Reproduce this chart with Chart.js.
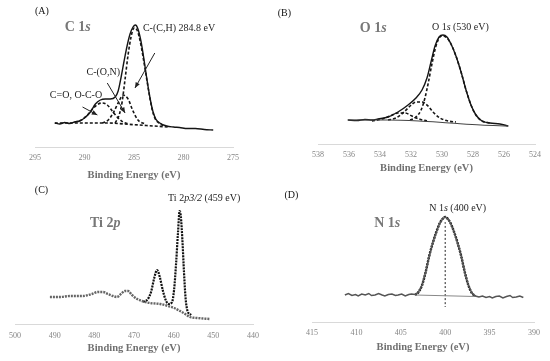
<!DOCTYPE html>
<html>
<head>
<meta charset="utf-8">
<script src="https://cdn.jsdelivr.net/npm/chart.js@4.4.0/dist/chart.umd.min.js"></script>
<style>
  html, body { margin: 0; padding: 0; background: #fff; }
  #wrap { position: relative; width: 550px; height: 361px; overflow: hidden; }
  canvas { position: absolute; }
</style>
</head>
<body>
<div id="wrap">
  <canvas id="panelA" width="275" height="182" style="left:0;top:0"></canvas>
  <canvas id="panelB" width="275" height="175" style="left:275px;top:0"></canvas>
  <canvas id="panelC" width="275" height="175" style="left:0;top:180px"></canvas>
  <canvas id="panelD" width="275" height="174" style="left:275px;top:180px"></canvas>
</div>
<script>
// ---- (A) C 1s ----
const c1sEnvX = [293.0, 292.5, 292.0, 291.5, 291.0, 290.5, 290.0, 289.4, 288.9, 288.4, 287.9, 287.4, 286.9, 286.6, 286.3, 286.0, 285.7, 285.4, 285.1, 284.85, 284.6, 284.3, 284.0, 283.7, 283.4, 283.1, 282.8, 282.4, 281.7, 281.0, 280.4, 279.6, 278.8, 277.9, 277.0];
const c1sEnvY = [24, 23, 24.5, 23.5, 25, 26, 29, 35, 43, 47, 48, 48, 50, 56, 70, 86, 101, 113, 120, 122, 118, 106, 88, 68, 50, 36, 28, 24, 21, 20, 19.5, 18.5, 18.5, 17.5, 17];
const c1sCOX = [291.0, 290.3, 289.7, 289.1, 288.6, 288.2, 287.7, 287.2, 286.7, 286.1, 285.5];
const c1sCOY = [25, 27, 32, 39, 43, 44, 42, 36, 30, 25, 23];
const c1sCONX = [288.2, 287.6, 287.1, 286.6, 286.1, 285.6, 285.1, 284.6, 283.9];
const c1sCONY = [24, 27, 34, 44, 52, 48, 36, 27, 23];
const c1sCHX = [286.9, 286.5, 286.2, 285.9, 285.6, 285.3, 285.0, 284.7, 284.4, 284.1, 283.8, 283.5, 283.2, 282.9, 282.5, 281.9];
const c1sCHY = [24, 32, 45, 68, 92, 110, 119, 117, 107, 91, 73, 55, 39, 29, 24, 21];
const c1sBgX = [293.0, 290.0, 287.5, 286.0, 284.5, 283.0, 281.5];
const c1sBgY = [24, 24, 24, 23, 22, 21, 20];

// ---- (B) O 1s ----
const o1sEnvX = [536.06, 535.5, 534.97, 534.5, 534.13, 533.48, 532.84, 532.19, 531.68, 531.29, 530.97, 530.71, 530.45, 530.19, 529.94, 529.68, 529.42, 529.10, 528.77, 528.45, 528.13, 527.81, 527.42, 526.90, 526.26, 525.74];
const o1sEnvY = [24, 23.5, 24.5, 24, 25, 27, 32, 39, 46, 54, 66, 82, 98, 107, 109, 107, 100, 88, 72, 54, 39, 29, 23, 21, 20, 18];
const o1sMainX = [532.06, 531.68, 531.35, 531.10, 530.90, 530.65, 530.39, 530.13, 529.94, 529.68, 529.42, 529.10, 528.77, 528.45, 528.13, 527.81, 527.42, 526.90];
const o1sMainY = [24, 27, 34, 46, 60, 80, 98, 107, 108, 106, 100, 88, 72, 54, 39, 29, 23, 21];
const o1sMidX = [533.48, 532.97, 532.45, 532.06, 531.68, 531.29, 530.90, 530.52, 530.13, 529.61, 529.10];
const o1sMidY = [24, 26, 32, 38, 42, 42, 38, 31, 26, 23, 22];
const o1sHighX = [534.52, 533.87, 533.35, 532.84, 532.39, 531.94, 531.48, 530.97];
const o1sHighY = [23, 25, 28, 31, 31, 28, 25, 23];
const o1sBgX = [536.1, 533.5, 531.5, 529.5, 527.5, 525.7];
const o1sBgY = [24, 24, 23, 21, 19, 18];

// ---- (C) Ti 2p ----
const ti2pDataX = [491.2, 488.7, 486.1, 482.9, 480.6, 479.1, 477.8, 476.6, 475.3, 474.3, 473.3, 472.3, 471.5, 470.5, 469.2, 468.0, 466.0, 463.4, 461.4, 459.9, 458.4, 457.1, 455.9, 454.1, 450.8];
const ti2pDataY = [27, 27, 28, 28, 30, 32, 32, 30, 28, 27, 30, 33, 33, 29, 25, 23, 21, 20, 18, 16, 13, 10, 7, 6, 5];
const ti2pFitX = [467.7, 466.5, 465.7, 464.9, 464.2, 463.5, 462.7, 461.9, 461.2, 460.4, 459.9, 459.4, 458.9, 458.5, 458.2, 457.8, 457.4, 457.0, 456.5, 455.6];
const ti2pFitY = [22, 25, 32, 46, 54, 47, 33, 23, 20, 22, 34, 60, 92, 113, 108, 84, 52, 26, 13, 9];

// ---- (D) N 1s ----
const n1sDataX = [411.3, 410.9, 410.5, 410.1, 409.8, 409.4, 409.0, 408.6, 408.3, 407.9, 407.5, 407.1, 406.8, 406.4, 406.0, 405.6, 405.3, 404.9, 404.5, 404.1, 403.8,
  403.4, 403.0, 402.6, 402.2, 401.8, 401.4, 401.0, 400.6, 400.3, 400.0, 399.7, 399.4, 399.0, 398.6, 398.2, 397.8, 397.4, 397.0, 396.6,
  396.2, 395.8, 395.4, 395.0, 394.7, 394.3, 393.9, 393.5, 393.1, 392.7, 392.4, 392.0, 391.6, 391.2];
const n1sDataY = [27, 28.5, 26.5, 27.5, 26, 28, 27, 28.5, 26.5, 27, 28.5, 27, 26, 27.5, 28, 26.5, 27, 28, 26, 27.5, 28,
  27.5, 30, 37, 50, 66, 79, 90, 99, 103, 105, 103, 99, 90, 79, 66, 50, 37, 29, 26,
  25, 26, 24.5, 25.5, 24, 25.5, 26, 24, 25.5, 26.5, 24.5, 25, 26, 24.5];
const n1sFitX = [403.4, 403.0, 402.6, 402.2, 401.8, 401.4, 401.0, 400.6, 400.3, 400.0, 399.7, 399.4, 399.0, 398.6, 398.2, 397.8, 397.4, 397.0, 396.6];
const n1sFitY = [27, 30, 37, 50, 66, 79, 90, 99, 103, 105, 103, 99, 90, 79, 66, 50, 37, 29, 26];
const n1sBgX = [403.4, 396.6];
const n1sBgY = [27, 25.5];
const n1sMarkX = [400, 400];
const n1sMarkY = [100, 15];

const SERIF = "'Liberation Serif', 'Times New Roman', serif";

function series(xs, ys) {
  return xs.map((x, i) => ({ x: x, y: ys[i] }));
}

function lineSet(xs, ys, style) {
  return Object.assign({
    data: series(xs, ys),
    pointRadius: 0,
    fill: false,
    cubicInterpolationMode: 'monotone',
    borderColor: '#1a1a1a',
    borderWidth: 1.2
  }, style);
}

const solid = { borderColor: '#151515', borderWidth: 1.4 };
const dashed = { borderColor: '#151515', borderWidth: 1.6, borderDash: [3, 2] };

// text and arrows, placed in data coordinates
function notesPlugin(notes) {
  return {
    id: 'notes',
    afterDraw(chart) {
      const ctx = chart.ctx;
      const sx = chart.scales.x, sy = chart.scales.y;
      ctx.save();
      (notes.arrows || []).forEach(a => {
        const x1 = sx.getPixelForValue(a.from[0]), y1 = sy.getPixelForValue(a.from[1]);
        const x2 = sx.getPixelForValue(a.to[0]), y2 = sy.getPixelForValue(a.to[1]);
        ctx.strokeStyle = '#222';
        ctx.fillStyle = '#222';
        ctx.lineWidth = 1;
        ctx.beginPath();
        ctx.moveTo(x1, y1);
        ctx.lineTo(x2, y2);
        ctx.stroke();
        const ang = Math.atan2(y2 - y1, x2 - x1);
        ctx.beginPath();
        ctx.moveTo(x2, y2);
        ctx.lineTo(x2 - 6 * Math.cos(ang - 0.4), y2 - 6 * Math.sin(ang - 0.4));
        ctx.lineTo(x2 - 6 * Math.cos(ang + 0.4), y2 - 6 * Math.sin(ang + 0.4));
        ctx.closePath();
        ctx.fill();
      });
      (notes.labels || []).forEach(l => {
        let x = sx.getPixelForValue(l.at[0]);
        const y = sy.getPixelForValue(l.at[1]);
        ctx.fillStyle = l.color;
        ctx.textBaseline = 'middle';
        ctx.textAlign = 'left';
        l.parts.forEach(p => {
          ctx.font = (p[1] ? 'italic ' : '') + (l.bold ? 'bold ' : '') + l.size + 'px ' + SERIF;
          ctx.fillText(p[0], x, y);
          x += ctx.measureText(p[0]).width;
        });
      });
      ctx.restore();
    }
  };
}

function makePanel(id, cfg) {
  const ctx = document.getElementById(id).getContext('2d');
  return new Chart(ctx, {
    type: 'line',
    data: { datasets: cfg.datasets },
    options: {
      responsive: false,
      animation: false,
      devicePixelRatio: 1,
      layout: { padding: cfg.padding },
      plugins: { legend: { display: false }, tooltip: { enabled: false } },
      scales: {
        x: {
          type: 'linear',
          reverse: true,
          min: cfg.min,
          max: cfg.max,
          afterFit: s => { s.height = cfg.axisHeight; },
          grid: { display: false, drawTicks: false },
          border: { display: true, color: '#d9d9d9', width: 1 },
          ticks: { stepSize: cfg.step, padding: cfg.tickPad, color: '#858585', font: { family: SERIF, size: 8 } },
          title: {
            display: true,
            text: 'Binding Energy (eV)',
            color: '#707070',
            font: { family: SERIF, size: 10.5, weight: 'bold' },
            padding: 0
          }
        },
        y: { display: false, min: 0, max: 130 }
      }
    },
    plugins: [notesPlugin(cfg.notes)]
  });
}

const bigLabel = { size: 14, bold: true, color: '#777' };
const smallLabel = { size: 10, bold: false, color: '#1e1e1e' };
const panelLetter = { size: 10, bold: false, color: '#111' };

makePanel('panelA', {
  min: 275, max: 295, step: 5, tickPad: 6, axisHeight: 35,
  padding: { left: 35, right: 42, top: 17, bottom: 0 },
  datasets: [
    lineSet(c1sBgX, c1sBgY, dashed),
    lineSet(c1sCOX, c1sCOY, dashed),
    lineSet(c1sCONX, c1sCONY, dashed),
    lineSet(c1sCHX, c1sCHY, dashed),
    lineSet(c1sEnvX, c1sEnvY, solid)
  ],
  notes: {
    arrows: [
      { from: [282.9, 94], to: [284.9, 59] },
      { from: [287.7, 64], to: [285.9, 34] },
      { from: [290.2, 40], to: [288.7, 32] }
    ],
    labels: [
      Object.assign({ at: [295, 136], parts: [['(A)', false]] }, panelLetter),
      Object.assign({ at: [292.0, 120], parts: [['C 1', false], ['s', true]] }, bigLabel),
      Object.assign({ at: [284.1, 119], parts: [['C-(C,H) 284.8 eV', false]] }, smallLabel),
      Object.assign({ at: [289.8, 75], parts: [['C-(O,N)', false]] }, smallLabel),
      Object.assign({ at: [293.5, 52], parts: [['C=O, O-C-O', false]] }, smallLabel)
    ]
  }
});

makePanel('panelB', {
  min: 524, max: 538, step: 2, tickPad: 6, axisHeight: 31,
  padding: { left: 43, right: 15, top: 14, bottom: 0 },
  datasets: [
    lineSet(o1sBgX, o1sBgY, { borderColor: '#444', borderWidth: 1.1 }),
    lineSet(o1sHighX, o1sHighY, dashed),
    lineSet(o1sMidX, o1sMidY, dashed),
    lineSet(o1sMainX, o1sMainY, dashed),
    lineSet(o1sEnvX, o1sEnvY, solid)
  ],
  notes: {
    labels: [
      Object.assign({ at: [540.6, 131], parts: [['(B)', false]] }, panelLetter),
      Object.assign({ at: [535.3, 116], parts: [['O 1', false], ['s', true]] }, bigLabel),
      Object.assign({ at: [530.65, 117], parts: [['O 1', false], ['s', true], [' (530 eV)', false]] }, smallLabel)
    ]
  }
});

makePanel('panelC', {
  min: 440, max: 500, step: 10, tickPad: 7, axisHeight: 31,
  padding: { left: 15, right: 22, top: 14, bottom: 0 },
  datasets: [
    lineSet(ti2pDataX, ti2pDataY, { borderColor: '#666', borderWidth: 2.4, borderDash: [2, 1] }),
    lineSet(ti2pFitX, ti2pFitY, { borderColor: '#111', borderWidth: 2.2, borderDash: [2, 1] })
  ],
  notes: {
    labels: [
      Object.assign({ at: [495.0, 134], parts: [['(C)', false]] }, panelLetter),
      Object.assign({ at: [481.1, 101], parts: [['Ti 2', false], ['p', true]] }, bigLabel),
      Object.assign({ at: [461.4, 126], parts: [['Ti 2', false], ['p3/2', true], [' (459 eV)', false]] }, smallLabel)
    ]
  }
});

makePanel('panelD', {
  min: 390, max: 415, step: 5, tickPad: 6, axisHeight: 32,
  padding: { left: 37, right: 16, top: 12, bottom: 0 },
  datasets: [
    lineSet(n1sDataX, n1sDataY, { borderColor: '#555', borderWidth: 1.5, cubicInterpolationMode: 'default', tension: 0 }),
    lineSet(n1sBgX, n1sBgY, { borderColor: '#888', borderWidth: 1 }),
    lineSet(n1sFitX, n1sFitY, { borderColor: '#111', borderWidth: 2.4, borderDash: [2, 1] }),
    lineSet(n1sMarkX, n1sMarkY, { borderColor: '#222', borderWidth: 1, borderDash: [2, 2] })
  ],
  notes: {
    labels: [
      Object.assign({ at: [418.1, 127], parts: [['(D)', false]] }, panelLetter),
      Object.assign({ at: [408.0, 99], parts: [['N 1', false], ['s', true]] }, bigLabel),
      Object.assign({ at: [401.8, 114], parts: [['N 1', false], ['s', true], [' (400 eV)', false]] }, smallLabel)
    ]
  }
});
</script>
</body>
</html>
